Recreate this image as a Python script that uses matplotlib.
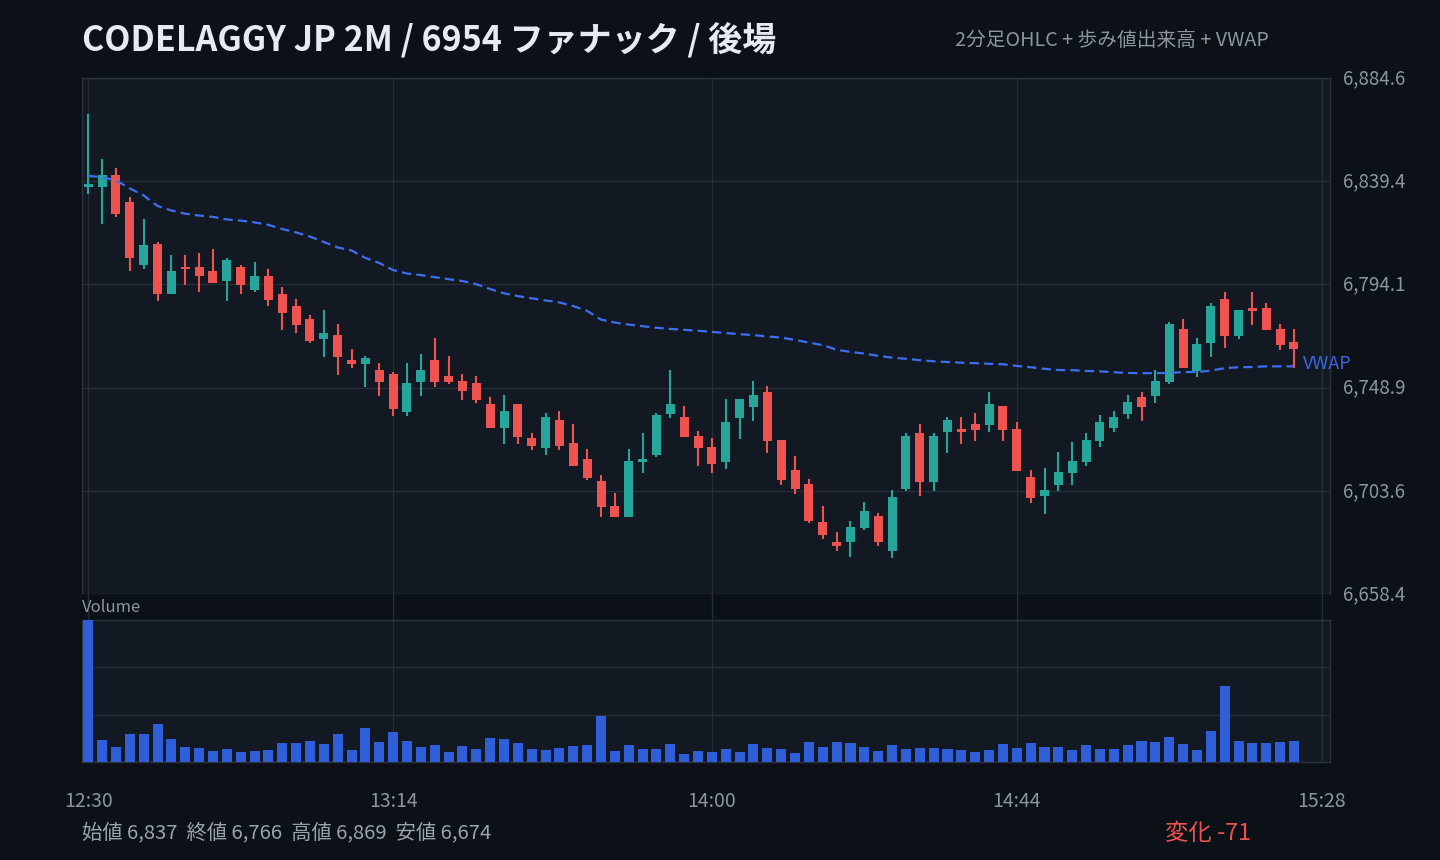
import matplotlib
matplotlib.use("Agg")
import matplotlib.pyplot as plt
import matplotlib.transforms as mtransforms
import numpy as np

plt.rcParams['font.family'] = ['Noto Sans CJK JP', 'DejaVu Sans']

# ---------------- data ----------------
title = "CODELAGGY JP 2M / 6954 ファナック / 後場"
subtitle = "2分足OHLC + 歩み値出来高 + VWAP"
bar_minutes = 2
tick_minutes = [0, 44, 90, 134, 178]
tick_labels = ["12:30", "13:14", "14:00", "14:44", "15:28"]

opens = [6837.0, 6836.8, 6841.9, 6830.1, 6802.5, 6812.0, 6789.7, 6801.9, 6801.9, 6800.2,
         6795.5, 6801.9, 6791.5, 6798.0, 6790.0, 6784.8, 6779.1, 6770.4, 6772.0, 6761.0,
         6759.4, 6756.6, 6754.9, 6738.3, 6751.5, 6761.0, 6754.0, 6751.8, 6750.9, 6741.7,
         6731.3, 6741.7, 6726.7, 6722.4, 6734.6, 6724.5, 6717.5, 6707.8, 6696.9, 6692.1,
         6716.3, 6719.4, 6737.3, 6735.9, 6727.6, 6722.8, 6716.3, 6735.6, 6740.5, 6746.9,
         6725.8, 6712.6, 6706.5, 6689.8, 6681.4, 6681.1, 6687.3, 6692.4, 6677.1, 6704.4,
         6728.9, 6707.5, 6729.3, 6730.7, 6732.9, 6732.4, 6740.8, 6730.7, 6709.6, 6701.2,
         6706.0, 6711.3, 6716.2, 6725.4, 6731.1, 6737.3, 6744.7, 6745.2, 6751.3, 6774.6,
         6756.2, 6768.5, 6787.8, 6771.6, 6783.9, 6783.9, 6774.6, 6768.9]
highs = [6869.0, 6849.0, 6845.0, 6832.3, 6823.0, 6812.9, 6806.8, 6806.8, 6808.1, 6809.8,
         6805.9, 6802.8, 6804.1, 6801.0, 6793.1, 6787.8, 6780.8, 6783.0, 6776.9, 6765.9,
         6762.8, 6759.7, 6755.7, 6759.7, 6763.7, 6770.7, 6762.8, 6754.9, 6754.0, 6744.6,
         6745.6, 6741.7, 6728.9, 6737.7, 6738.6, 6732.9, 6721.9, 6710.4, 6702.5, 6721.9,
         6728.9, 6737.7, 6756.6, 6740.8, 6729.8, 6726.7, 6743.9, 6743.9, 6751.8, 6749.6,
         6725.8, 6718.8, 6708.8, 6696.8, 6685.4, 6690.6, 6698.6, 6693.7, 6703.8, 6728.9,
         6732.9, 6728.9, 6735.9, 6735.9, 6737.7, 6746.9, 6740.8, 6733.7, 6712.6, 6713.5,
         6720.6, 6724.9, 6728.9, 6736.8, 6738.6, 6745.6, 6746.9, 6756.6, 6777.7, 6779.1,
         6770.7, 6786.1, 6790.9, 6783.0, 6790.9, 6786.1, 6776.9, 6774.6]
lows = [6833.6, 6820.4, 6823.6, 6799.9, 6800.7, 6786.7, 6789.7, 6793.7, 6790.6, 6794.6,
        6786.7, 6789.7, 6790.6, 6784.5, 6774.3, 6772.6, 6768.6, 6762.5, 6754.6, 6757.6,
        6749.3, 6745.3, 6736.5, 6736.5, 6745.3, 6749.3, 6750.6, 6743.6, 6742.3, 6731.3,
        6724.2, 6724.2, 6721.6, 6719.4, 6721.6, 6714.5, 6708.4, 6692.1, 6692.1, 6692.1,
        6711.5, 6718.5, 6735.6, 6727.3, 6714.5, 6711.5, 6713.2, 6726.4, 6734.3, 6720.2,
        6706.2, 6702.2, 6689.5, 6682.4, 6677.1, 6674.5, 6686.4, 6679.3, 6674.0, 6703.4,
        6701.2, 6703.4, 6720.2, 6724.1, 6725.4, 6729.3, 6725.4, 6712.2, 6698.1, 6693.3,
        6703.4, 6706.0, 6714.4, 6722.8, 6729.3, 6735.1, 6734.2, 6742.1, 6750.5, 6757.5,
        6753.5, 6762.4, 6766.3, 6770.2, 6776.4, 6774.2, 6765.4, 6757.5]
closes = [6838.0, 6841.9, 6824.8, 6805.6, 6811.2, 6789.7, 6800.2, 6800.7, 6797.7, 6794.6,
          6805.0, 6793.7, 6798.0, 6787.5, 6781.4, 6776.5, 6769.5, 6772.9, 6762.5, 6759.4,
          6761.9, 6751.5, 6739.6, 6750.9, 6756.6, 6751.5, 6751.5, 6747.5, 6743.6, 6731.3,
          6738.6, 6727.3, 6723.3, 6735.9, 6723.3, 6714.5, 6709.3, 6696.5, 6692.1, 6716.6,
          6717.5, 6736.8, 6741.7, 6727.3, 6722.4, 6715.4, 6733.7, 6743.9, 6745.6, 6725.5,
          6708.4, 6704.4, 6690.3, 6684.2, 6679.3, 6687.6, 6694.6, 6681.1, 6700.8, 6727.6,
          6707.5, 6727.6, 6734.6, 6729.3, 6730.2, 6741.7, 6730.2, 6712.2, 6700.3, 6703.8,
          6711.7, 6716.6, 6725.8, 6733.7, 6735.9, 6742.6, 6740.3, 6751.8, 6776.8, 6757.5,
          6768.1, 6784.8, 6771.6, 6783.0, 6782.6, 6774.2, 6767.6, 6766.0]
volumes = [42800, 6500, 4400, 8300, 8300, 11600, 6800, 4400, 4100, 3200,
           3800, 2900, 3200, 3500, 5600, 5600, 6200, 5300, 8300, 3500,
           10100, 5900, 8900, 6200, 4400, 5000, 2900, 4700, 3800, 7100,
           6800, 5600, 3800, 3500, 4100, 4700, 5000, 14000, 3200, 5000,
           3800, 3800, 5300, 2300, 3200, 2900, 3800, 2900, 5300, 4100,
           3800, 2600, 5900, 4400, 5900, 5600, 4400, 3200, 5000, 3800,
           4100, 4100, 3800, 3500, 2900, 3500, 5300, 4100, 5600, 4400,
           4400, 3500, 5000, 3800, 3800, 5000, 6200, 5900, 7400, 5300,
           3500, 9200, 23000, 6200, 5600, 5600, 5900, 6200]
vwap = [6841.7, 6841.1, 6839.7, 6836.2, 6833.1, 6828.5, 6826.5, 6825.1, 6824.3, 6823.7,
        6822.6, 6822.1, 6821.3, 6820.2, 6818.4, 6816.9, 6815.1, 6812.7, 6810.3, 6809.0,
        6805.7, 6803.5, 6800.4, 6798.9, 6798.2, 6797.3, 6796.4, 6795.6, 6794.2, 6792.1,
        6790.2, 6789.0, 6788.0, 6787.1, 6786.2, 6784.6, 6782.5, 6778.7, 6777.4, 6776.5,
        6775.8, 6775.1, 6774.6, 6774.2, 6773.8, 6773.3, 6772.8, 6772.3, 6771.9, 6771.3,
        6770.8, 6769.8, 6768.6, 6767.5, 6765.5, 6764.5, 6763.8, 6762.8, 6762.0, 6761.5,
        6760.9, 6760.4, 6760.1, 6759.8, 6759.6, 6759.3, 6759.1, 6758.4, 6757.8, 6757.1,
        6756.6, 6756.5, 6756.2, 6756.0, 6755.6, 6755.3, 6755.2, 6755.2, 6755.3, 6755.7,
        6755.7, 6756.3, 6757.4, 6757.8, 6757.9, 6758.2, 6758.2, 6758.2]

# ---------------- style ----------------
BG = "#0c1017"
PANEL = "#121922"
GRID = "#242d38"
FRAME = "#2a333e"
TXT = "#8b95a2"
UP = "#26a69a"
DN = "#ef5350"
VOLC = "#2f5fd8"
VWAPC = "#3d6ff2"

W, H = 1440, 860
o = np.array(opens); h = np.array(highs); l = np.array(lows); c = np.array(closes)
v = np.array(volumes); vw = np.array(vwap)
x = np.arange(len(o)) * bar_minutes
cols = np.where(c >= o, UP, DN)

fig = plt.figure(figsize=(W / 100, H / 100), dpi=100, facecolor=BG)

def fa(l_, t_, r_, b_):
    return [l_ / W, 1 - b_ / H, (r_ - l_) / W, (b_ - t_) / H]

ax = fig.add_axes(fa(82, 78, 1330, 594))
axg = fig.add_axes(fa(82, 594, 1330, 620))
axv = fig.add_axes(fa(82, 620, 1330, 762))

xlim = (-0.9, 179.2)
for a in (ax, axg, axv):
    a.set_xlim(*xlim)
    a.set_xticks(tick_minutes)

# price panel
ax.set_facecolor(PANEL)
rng = h.max() - l.min()
ylo, yhi = l.min() - 0.08 * rng, h.max() + 0.08 * rng
ax.set_ylim(ylo, yhi)
yt = np.linspace(ylo, yhi, 6)
ax.set_yticks(yt)
ax.set_yticklabels([f"{t:,.1f}" for t in yt])
ax.yaxis.tick_right()
ax.tick_params(axis='y', length=0, pad=9, labelsize=13.5, labelcolor=TXT)
shift = mtransforms.ScaledTranslation(0, 2 / 100, fig.dpi_scale_trans)
for lab in ax.get_yticklabels():
    lab.set_transform(lab.get_transform() + shift)
ax.tick_params(axis='x', length=0, labelbottom=False)
ax.grid(True, color=GRID, lw=1)
ax.set_axisbelow(True)
for s in ax.spines.values():
    s.set_color(FRAME); s.set_linewidth(1)

ax.vlines(x, l, h, colors=cols, lw=1.5, zorder=2)
body_lo = np.minimum(o, c)
body_h = np.maximum(np.abs(c - o), 0.8)
ax.bar(x, body_h, bottom=body_lo, width=1.3, color=cols, zorder=3, linewidth=0)
ax.plot(x, vw, color=VWAPC, lw=1.6, ls=(0, (4.2, 2.3)), zorder=4)
ax.text(x[-1] + 1.3, vw[-1] + 1.0, "VWAP", color="#3a66e0", fontsize=13,
        va='center', ha='left', clip_on=False)

# gap strip
axg.set_facecolor(BG)
axg.set_ylim(0, 1)
for s in axg.spines.values():
    s.set_visible(False)
axg.tick_params(length=0, labelbottom=False, labelleft=False)
axg.grid(True, axis='x', color=GRID, lw=1)
axg.set_yticks([])
axg.text(0.0, 0.5, "Volume", transform=axg.transAxes, color=TXT, fontsize=12,
         va='center', ha='left')

# volume panel
axv.set_facecolor(PANEL)
vmax = v.max()
axv.set_ylim(0, vmax)
axv.set_yticks([vmax / 3, 2 * vmax / 3])
axv.tick_params(axis='y', length=0, labelleft=False)
axv.set_xticklabels(tick_labels)
axv.tick_params(axis='x', length=0, pad=21, labelsize=14, labelcolor=TXT)
axv.grid(True, color=GRID, lw=1)
axv.set_axisbelow(True)
for s in axv.spines.values():
    s.set_color(FRAME); s.set_linewidth(1)
axv.bar(x, v, width=1.45, color=VOLC, linewidth=0, zorder=3)

# header / footer
fig.text(82 / W, 1 - 40 / H, title, color="#e6ebf2", fontsize=24.5, weight='bold',
         va='center', ha='left')
fig.text(955 / W, 1 - 40 / H, subtitle, color=TXT, fontsize=14.2, va='center', ha='left')
summary = (f"始値 {o[0]:,.0f}  終値 {c[-1]:,.0f}  高値 {h.max():,.0f}  安値 {l.min():,.0f}")
fig.text(82 / W, 1 - 833 / H, summary, color="#9aa3ae", fontsize=14.6, va='center', ha='left')
chg = c[-1] - o[0]
fig.text(1165 / W, 1 - 833 / H, f"変化 {chg:,.0f}", color=DN,
         fontsize=16.8, va='center', ha='left')

fig.savefig("out.png", dpi=100, facecolor=BG)
